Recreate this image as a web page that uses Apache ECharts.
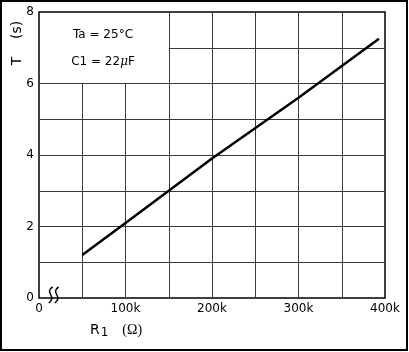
<!DOCTYPE html>
<html>
<head>
<meta charset="utf-8">
<script src="https://cdn.jsdelivr.net/npm/echarts@6/dist/echarts.min.js"></script>
<style>
  html, body { margin: 0; padding: 0; background: #fff; }
  #chart { width: 409px; height: 352px; }
</style>
</head>
<body>
<div id="chart"></div>
<script>
// R1 (ohm) vs T (s)
const r1Values = [50000, 100000, 200000, 300000, 393000]
const tValues = [1.2, 2.1, 3.9, 5.6, 7.25]

// grid lines (the label box in the top left corner has none)
const vGrid = [50000, 100000, 150000, 200000, 250000, 300000, 350000]
const hGrid = [1, 2, 3, 4, 5, 6, 7]
const boxRight = 150000
const boxBottom = 6

const xLabels = { 0: '0', 100000: '100k', 200000: '200k', 300000: '300k', 400000: '400k' }
const yLabels = { 0: '0', 2: '2', 4: '4', 6: '6', 8: '8' }

const chart = echarts.init(document.getElementById('chart'))

const gridLines = []
vGrid.forEach(x => {
  gridLines.push([{ coord: [x, 0] }, { coord: [x, x < boxRight ? boxBottom : 8] }])
})
hGrid.forEach(y => {
  gridLines.push([{ coord: [y > boxBottom ? boxRight : 0, y] }, { coord: [400000, y] }])
})

const option = {
  animation: false,
  grid: {
    left: 39, top: 12, width: 346, height: 286,
    show: true,
    borderColor: '#000',
    borderWidth: 1.5,
    backgroundColor: 'transparent'
  },
  xAxis: {
    type: 'value',
    min: 0,
    max: 400000,
    interval: 50000,
    axisLine: { show: false },
    axisTick: { show: false },
    splitLine: { show: false },
    axisLabel: {
      margin: 5,
      color: '#000',
      fontSize: 12,
      fontFamily: 'DejaVu Sans',
      formatter: v => xLabels[v] || ''
    }
  },
  yAxis: {
    type: 'value',
    min: 0,
    max: 8,
    interval: 1,
    axisLine: { show: false },
    axisTick: { show: false },
    splitLine: { show: false },
    axisLabel: {
      margin: 5,
      color: '#000',
      fontSize: 12,
      fontFamily: 'DejaVu Sans',
      formatter: v => yLabels[v] || ''
    }
  },
  series: [
    {
      type: 'line',
      data: r1Values.map((r, i) => [r, tValues[i]]),
      symbol: 'none',
      lineStyle: { color: '#000', width: 2.5 },
      z: 5
    },
    {
      type: 'line',
      data: [],
      silent: true,
      markLine: {
        silent: true,
        symbol: 'none',
        label: { show: false },
        lineStyle: { color: '#3a3a3a', width: 1, type: 'solid' },
        data: gridLines
      },
      z: 1
    }
  ]
}

chart.setOption(option)

// axis break marks and texts
const p0 = chart.convertToPixel({ gridIndex: 0 }, [13500, 0])
const p1 = chart.convertToPixel({ gridIndex: 0 }, [20500, 0])
const squiggle = (cx, cy) => ({
  type: 'bezierCurve',
  shape: {
    x1: cx + 2, y1: cy - 8,
    cpx1: cx - 7, cpy1: cy - 3,
    cpx2: cx + 7, cpy2: cy + 2,
    x2: cx - 2, y2: cy + 8
  },
  style: { fill: null, stroke: '#000', lineWidth: 1.5 }
})

chart.setOption({
  graphic: [
    {
      type: 'rect',
      shape: { x: 1, y: 1, width: 406, height: 349 },
      style: { fill: null, stroke: '#000', lineWidth: 2 }
    },
    squiggle(p0[0], p0[1] - 3),
    squiggle(p1[0], p1[1] - 3),
    {
      type: 'text',
      x: 17, y: 43,
      rotation: Math.PI / 2,
      style: {
        text: 'T    (s)',
        font: '14px "DejaVu Sans"',
        fill: '#000',
        textAlign: 'center',
        textVerticalAlign: 'middle'
      }
    },
    {
      type: 'text',
      x: 103, y: 35,
      style: {
        text: 'Ta = 25°C',
        font: '12px "DejaVu Sans"',
        fill: '#000',
        textAlign: 'center',
        textVerticalAlign: 'middle'
      }
    },
    {
      type: 'text',
      x: 103, y: 62,
      style: {
        text: '{a|C1 = 22}{m|μ}{a|F}',
        fill: '#000',
        textAlign: 'center',
        textVerticalAlign: 'middle',
        rich: {
          a: { font: '12px "DejaVu Sans"', fill: '#000' },
          m: { font: 'italic 12px "DejaVu Serif"', fill: '#000' }
        }
      }
    },
    {
      type: 'text',
      x: 90, y: 330,
      style: {
        text: '{r|R}{s|1}{g|    (Ω)}',
        fill: '#000',
        textVerticalAlign: 'middle',
        rich: {
          r: { font: '14px "DejaVu Sans"', fill: '#000' },
          s: { font: '12px "DejaVu Sans"', fill: '#000', padding: [6, 0, 0, 1] },
          g: { font: '14px "Liberation Serif"', fill: '#000' }
        }
      }
    }
  ]
})

window.addEventListener('resize', () => chart.resize())
</script>
</body>
</html>
